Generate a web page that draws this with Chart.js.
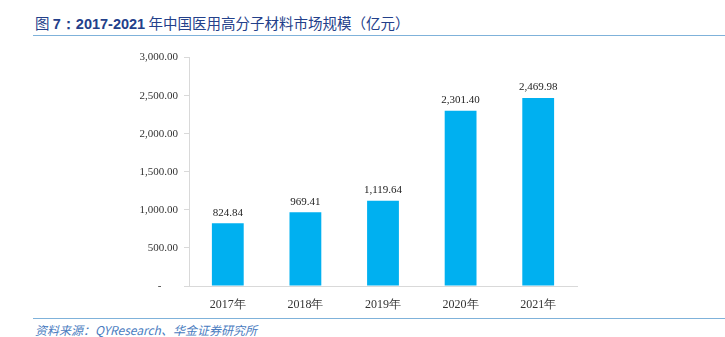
<!DOCTYPE html>
<html>
<head>
<meta charset="utf-8">
<script src="https://cdn.jsdelivr.net/npm/chart.js@4.4.0/dist/chart.umd.min.js"></script>
<style>
  body { margin: 0; width: 725px; height: 337px; background: #fff; position: relative; overflow: hidden; }
  #title { position: absolute; left: 35px; top: 12px; font-family: "Noto Sans CJK SC", sans-serif; font-size: 14.5px; color: #23408A; white-space: nowrap; }
  #title b { font-family: "Liberation Sans", Arial, sans-serif; font-weight: bold; }
  #topline { position: absolute; left: 33px; top: 35px; width: 692px; height: 1px; background: #7FB2DA; }
  #botline { position: absolute; left: 33px; top: 318px; width: 692px; height: 1px; background: #7FB2DA; }
  #source { position: absolute; left: 35px; top: 321px; font-family: "Noto Sans CJK SC", sans-serif; font-size: 12px; font-style: italic; color: #4A7CC0; white-space: nowrap; }
  #wrap { position: absolute; left: 100px; top: 45px; width: 500px; height: 265px; }
</style>
</head>
<body>
<div id="title">图 <b>7：2017-2021</b> 年中国医用高分子材料市场规模（亿元）</div>
<div id="topline"></div>
<div id="wrap"><canvas id="chart"></canvas></div>
<div id="botline"></div>
<div id="source">资料来源：QYResearch、华金证券研究所</div>
<script>
const years = ['2017年', '2018年', '2019年', '2020年', '2021年'];
const marketSize = [824.84, 969.41, 1119.64, 2301.40, 2469.98];

const fmt = v => v.toLocaleString('en-US', { minimumFractionDigits: 2, maximumFractionDigits: 2 });

const valueLabels = {
    id: 'valueLabels',
    afterDatasetsDraw(chart) {
        const ctx = chart.ctx;
        const meta = chart.getDatasetMeta(0);
        ctx.save();
        ctx.font = '11px "Liberation Serif", "Times New Roman", serif';
        ctx.fillStyle = '#222';
        ctx.textAlign = 'center';
        ctx.textBaseline = 'bottom';
        meta.data.forEach((bar, i) => {
            ctx.fillText(fmt(marketSize[i]), bar.x, bar.y - 5);
        });
        ctx.restore();
    }
};

new Chart(document.getElementById('chart'), {
    type: 'bar',
    data: {
        labels: years,
        datasets: [{
            data: marketSize,
            backgroundColor: '#00B0F0',
            categoryPercentage: 1,
            barPercentage: 0.41
        }]
    },
    options: {
        responsive: true,
        maintainAspectRatio: false,
        animation: false,
        layout: { padding: { top: 12, right: 23, left: 0, bottom: 0 } },
        plugins: { legend: { display: false }, tooltip: { enabled: false } },
        scales: {
            x: {
                grid: { display: false },
                border: { color: '#d9d9d9' },
                ticks: { color: '#333', font: { family: '"Liberation Serif", "Times New Roman", serif', size: 12 }, padding: 4 },
                afterFit(scale) { scale.height = 24; }
            },
            y: {
                min: 0,
                max: 3000,
                grid: { drawOnChartArea: false, drawTicks: true, tickLength: 5, color: '#d9d9d9' },
                border: { color: '#d9d9d9' },
                ticks: {
                    stepSize: 500,
                    color: '#333',
                    padding: 6,
                    font: { family: '"Liberation Serif", "Times New Roman", serif', size: 11 },
                    callback: v => v === 0 ? '-      ' : fmt(v)
                },
                afterFit(scale) { scale.width = 89; }
            }
        }
    },
    plugins: [valueLabels]
});
</script>
</body>
</html>
